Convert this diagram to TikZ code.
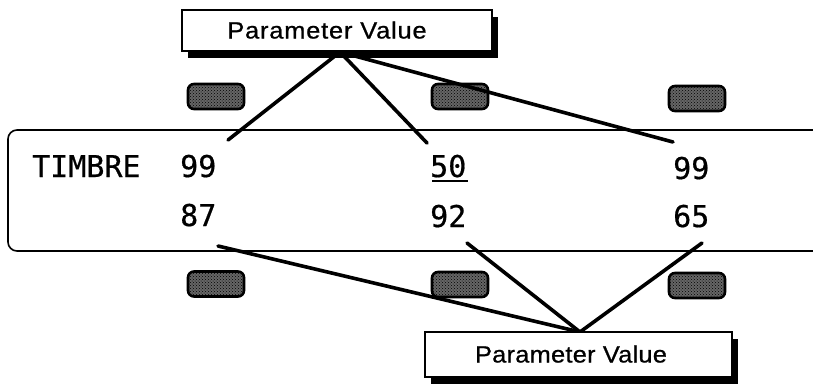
\documentclass[tikz,border=0pt]{standalone}
\usepackage{fontspec}
\setmainfont{Liberation Sans}
\newfontfamily\lcdfont[FakeBold=0.6]{DejaVu Sans Mono}
\newfontfamily\pvfontA[FakeStretch=1.08, LetterSpace=3.5, FakeBold=0.8]{Liberation Sans}
\newfontfamily\pvfontB[FakeStretch=1.08, LetterSpace=1.1, FakeBold=0.8]{Liberation Sans}
\usetikzlibrary{shadows,patterns}
\begin{document}
\begin{tikzpicture}[x=1pt,y=-1pt,
  conn/.style={line width=3.6pt, line cap=round},
  btn/.style={draw=black, fill=black!60, line width=2.6pt, rounded corners=6pt,
    minimum width=56pt, minimum height=25pt, inner sep=0pt,
    postaction={pattern=crosshatch dots, pattern color=black}},
  pvbox/.style={draw=black, fill=white, line width=1.2pt, inner sep=0pt,
    drop shadow={shadow xshift=6pt, shadow yshift=-7pt, fill=black, opacity=1}},
  lcd/.style={font=\lcdfont\fontsize{30}{30}\selectfont, inner sep=0pt, anchor=base west},
  pvtextA/.style={font=\pvfontA\fontsize{23.5}{25}\selectfont, inner sep=0pt, anchor=base},
  pvtextB/.style={font=\pvfontB\fontsize{23.5}{25}\selectfont, inner sep=0pt, anchor=base}
]
\useasboundingbox (0,0) rectangle (813,383);

% display panel (open on the right)
\draw[line width=1.6pt, rounded corners=9pt] (813,130) -- (8,130) -- (8,251) -- (813,251);

% buttons
\node[btn] (bt1) at (216,96.5) {};
\node[btn] (bt2) at (460,96.5) {};
\node[btn] (bt3) at (697,98.5) {};
\node[btn] (bb1) at (216,284) {};
\node[btn] (bb2) at (460,284.5) {};
\node[btn] (bb3) at (697,285.5) {};

% display texts
\node[lcd] (tim) at (32,177) {TIMBRE};
\node[lcd] (v1) at (180,177) {99};
\node[lcd] (v2) at (430,177) {50};
\node[lcd] (v3) at (673,179) {99};
\node[lcd] (w1) at (180,226) {87};
\node[lcd] (w2) at (430,227) {92};
\node[lcd] (w3) at (673,227) {65};
\draw[line width=2.2pt] (v2.base west) ++(2,4) coordinate (ul1) -- ++(36,0) coordinate (ul2);

% connector end points
\coordinate (tj) at (340,52);
\coordinate (e1) at (228,140);
\coordinate (e2) at (427,143);
\coordinate (e3) at (673,142);
\coordinate (bj) at (580,332);
\coordinate (f1) at (218,246);
\coordinate (f2) at (467,243);
\coordinate (f3) at (702,243);

\draw[conn] (tj) -- (e1);
\draw[conn] (tj) -- (e2);
\draw[conn] (tj) -- (e3);
\draw[conn] (bj) -- (f1);
\draw[conn] (bj) -- (f2);
\draw[conn] (bj) -- (f3);

% parameter value boxes
\node[pvbox, minimum width=310pt, minimum height=41pt] (top) at (337,30.5) {};
\node[pvtextA] (toptext) at (327,38.5) {Parameter Value};
\node[pvbox, minimum width=307pt, minimum height=45pt] (bot) at (578.5,354.5) {};
\node[pvtextB] (bottext) at (571,362.5) {Parameter Value};
\end{tikzpicture}
\end{document}
